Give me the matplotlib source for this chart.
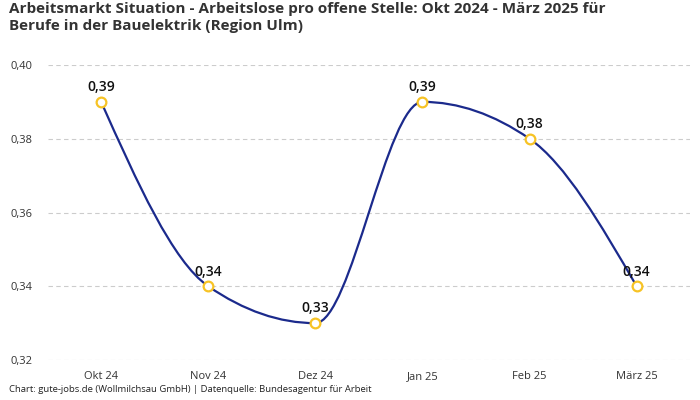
import numpy as np
import matplotlib
matplotlib.use("Agg")
import matplotlib.pyplot as plt
from matplotlib.path import Path
from matplotlib.patches import PathPatch

plt.rcParams['font.family'] = ['Open Sans', 'DejaVu Sans']

months = ['Okt 24', 'Nov 24', 'Dez 24', 'Jan 25', 'Feb 25', 'März 25']
values = [0.39, 0.34, 0.33, 0.39, 0.38, 0.34]
yticks = [0.32, 0.34, 0.36, 0.38, 0.40]

title = ('Arbeitsmarkt Situation - Arbeitslose pro offene Stelle: Okt 2024 - März 2025 für\n'
         'Berufe in der Bauelektrik (Region Ulm)')
source = 'Chart: gute-jobs.de (Wollmilchsau GmbH) | Datenquelle: Bundesagentur für Arbeit'


def monotone_path(x, y):
    # monotone cubic (same slopes as d3 curveMonotoneX), built as bezier path
    x = np.asarray(x, float)
    y = np.asarray(y, float)
    h = np.diff(x)
    s = np.diff(y) / h
    n = len(x)
    t = np.zeros(n)
    for i in range(1, n - 1):
        p = (s[i - 1] * h[i] + s[i] * h[i - 1]) / (h[i - 1] + h[i])
        t[i] = (np.sign(s[i - 1]) + np.sign(s[i])) * min(abs(s[i - 1]), abs(s[i]), 0.5 * abs(p))
    t[0] = (3 * s[0] - t[1]) / 2
    t[-1] = (3 * s[-1] - t[-2]) / 2
    verts = [(x[0], y[0])]
    codes = [Path.MOVETO]
    for i in range(n - 1):
        dx = h[i] / 3
        verts += [(x[i] + dx, y[i] + dx * t[i]),
                  (x[i + 1] - dx, y[i + 1] - dx * t[i + 1]),
                  (x[i + 1], y[i + 1])]
        codes += [Path.CURVE4] * 3
    return Path(verts, codes)


fig = plt.figure(figsize=(7, 4), dpi=100)
ax = fig.add_axes([0.068, 0.1, 0.918, 0.7375])

xs = np.arange(len(months))
ax.add_patch(PathPatch(monotone_path(xs, values), facecolor='none',
                       edgecolor='#1b2a8c', lw=1.6, zorder=3))
ax.plot(xs, values, ls='none', marker='o', ms=7, mfc='white', mec='#f7c325',
        mew=1.6, zorder=4)
for xi, v in zip(xs, values):
    ax.annotate(f'{v:.2f}'.replace('.', ','), (xi, v), xytext=(0, 5.5),
                textcoords='offset points', ha='center', va='bottom',
                fontsize=10, fontweight='semibold', color='#111111', zorder=5)

ax.set_xlim(-0.5, len(months) - 0.5)
ax.set_ylim(0.32, 0.40)
ax.set_xticks(xs)
ax.set_xticklabels(months)
ax.set_yticks(yticks)
ax.set_yticklabels([f'{t:.2f}'.replace('.', ',') for t in yticks])
ax.tick_params(length=0, labelsize=8, labelcolor='#333333')
ax.tick_params(axis='x', pad=8)
ax.tick_params(axis='y', pad=11)
ax.grid(axis='y', color='#cccccc', ls=(0, (4, 3)), lw=0.8)
ax.set_axisbelow(True)
for sp in ax.spines.values():
    sp.set_visible(False)

fig.text(0.013, 0.995, title, ha='left', va='top', fontsize=11,
         fontweight='bold', color='#333333', linespacing=1.25)
fig.text(0.013, 0.015, source, ha='left', va='bottom', fontsize=6.8, color='#222222')

fig.savefig('out.png', dpi=100)
